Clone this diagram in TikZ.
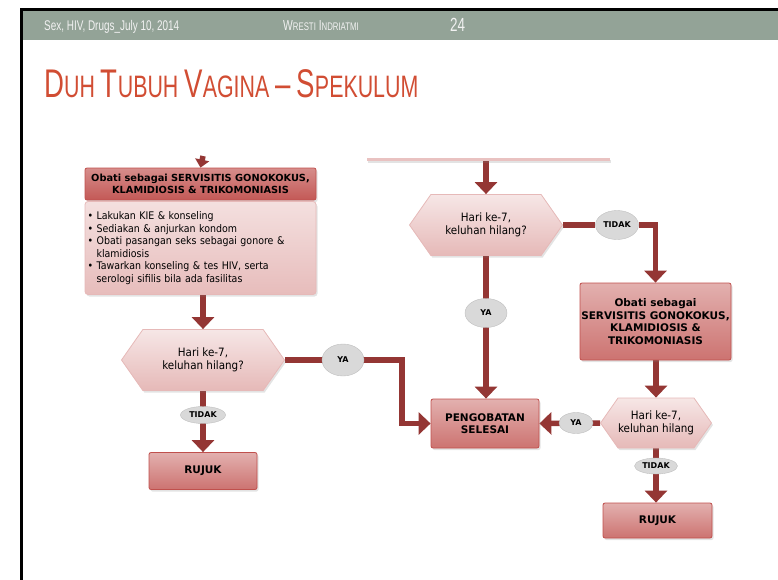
\documentclass[tikz,border=0pt]{standalone}
\usepackage{fontspec}
\setmainfont[FakeStretch=0.9,BoldFeatures={FakeStretch=1.0}]{DejaVu Sans}
\newfontfamily\headfont[FakeStretch=0.71]{Liberation Sans}
\newfontfamily\titlefont[FakeStretch=0.69]{Liberation Sans}
\usetikzlibrary{arrows.meta,shapes.geometric,shapes.symbols,shadows,backgrounds}

\definecolor{arrowred}{HTML}{943634}
\definecolor{boxline}{HTML}{C0504D}
\definecolor{bandgray}{HTML}{93A397}
\definecolor{titlered}{HTML}{D14D33}

\newcommand{\capbig}[1]{{\fontsize{40}{40}\selectfont #1}}

\tikzset{
  softshadow/.style={drop shadow={opacity=0.22,shadow xshift=1.5pt,shadow yshift=-2pt}},
  flowbox/.style={rectangle,rounded corners=2pt,draw=boxline,line width=0.8pt,
    top color=boxline!45!white,bottom color=boxline!80!white,softshadow,
    font=\fontsize{10.5}{12.5}\selectfont\bfseries,align=center,inner sep=0pt},
  headbox/.style={flowbox,top color=boxline!65!white,bottom color=boxline!95!white,
    font=\fontsize{9.8}{12}\selectfont\bfseries},
  listbox/.style={rectangle,rounded corners=3pt,draw=boxline!40!white,line width=0.8pt,
    top color=boxline!18!white,bottom color=boxline!38!white,softshadow,
    font=\fontsize{10.5}{12.6}\selectfont,align=left,inner sep=0pt},
  decision/.style={signal,signal to=west and east,signal pointer angle=110,
    draw=boxline!40!white,line width=0.8pt,top color=boxline!14!white,bottom color=boxline!40!white,
    softshadow,font=\fontsize{11.5}{13}\selectfont,align=center,inner sep=0pt},
  answer/.style={ellipse,draw=black!25,fill=black!15,inner sep=0pt,
    font=\fontsize{8}{9}\selectfont\bfseries},
  flow/.style={draw=arrowred,line width=5.5pt,-{Triangle[width=22pt,length=12pt]}}
}

\begin{document}
\begin{tikzpicture}[x=1pt,y=-1pt]
  \useasboundingbox (0,0) rectangle (778,579);

  % slide frame and header band
  \fill[bandgray] (22,10) rectangle (790,40);
  \draw[line width=3pt] (21,600) -- (21,9) -- (790,9);
  \node[anchor=base west,inner sep=0pt,text=white!95!black,font=\headfont\fontsize{14}{14}\selectfont] (date) at (44,30) {Sex, HIV, Drugs\_July 10, 2014};
  \node[anchor=base west,inner sep=0pt,text=white!95!black,font=\headfont\fontsize{14.5}{14}\selectfont] (author) at (283,30) {W{\fontsize{11}{12}\selectfont RESTI} I{\fontsize{11}{12}\selectfont NDRIATMI}};
  \node[anchor=base west,inner sep=0pt,text=white!95!black,font=\headfont\fontsize{19}{20}\selectfont] (page) at (450,31) {24};
  \node[anchor=base west,text=titlered,font=\titlefont\fontsize{31}{31}\selectfont,inner sep=0pt] (title) at (44,97)
    {\capbig{D}UH \capbig{T}UBUH \capbig{V}AGINA \capbig{–} \capbig{S}PEKULUM};

  % left column
  \coordinate (inL) at (203,156);
  \node[headbox,minimum width=231pt,minimum height=32pt] (head) at (200.5,184)
    {Obati sebagai SERVISITIS GONOKOKUS,\\KLAMIDIOSIS \& TRIKOMONIASIS};
  \node[listbox,minimum width=231pt,minimum height=93pt,text width=226pt] (list) at (200.5,248)
    {\textbullet~Lakukan KIE \& konseling\\
     \textbullet~Sediakan \& anjurkan kondom\\
     \textbullet~Obati pasangan seks sebagai gonore \&\\
     \phantom{\textbullet~}klamidiosis\\
     \textbullet~Tawarkan konseling \& tes HIV, serta\\
     \phantom{\textbullet~}serologi sifilis bila ada fasilitas};
  \node[decision,minimum width=163pt,minimum height=61pt] (hexL) at (203,360) {Hari ke-7,\\keluhan hilang?};
  \node[answer,minimum width=42pt,minimum height=32pt] (yaL) at (343,360) {YA};
  \node[answer,minimum width=45pt,minimum height=17pt] (tidakL) at (203,415) {TIDAK};
  \node[flowbox,minimum width=108pt,minimum height=37pt] (rujukL) at (203,471) {RUJUK};
  \coordinate (bendL) at (402,360);

  % middle column
  \node[rectangle,fill=boxline!35!white,softshadow,minimum width=243pt,minimum height=3pt,inner sep=0pt] (strip) at (488,159) {};
  \node[decision,minimum width=153pt,minimum height=61pt] (hexM) at (486,225) {Hari ke-7,\\keluhan hilang?};
  \node[answer,minimum width=43pt,minimum height=29pt] (tidakM) at (617,225) {TIDAK};
  \node[answer,minimum width=42pt,minimum height=29pt] (yaM) at (486,313) {YA};
  \node[flowbox,minimum width=108pt,minimum height=49pt] (done) at (485,423.5) {PENGOBATAN\\SELESAI};

  % right column
  \node[flowbox,minimum width=151pt,minimum height=77pt] (boxR) at (655.5,321.5)
    {Obati sebagai\\SERVISITIS GONOKOKUS,\\KLAMIDIOSIS \&\\TRIKOMONIASIS};
  \node[decision,minimum width=107pt,minimum height=50pt] (hexR) at (656,423) {Hari ke-7,\\keluhan hilang};
  \node[answer,minimum width=34pt,minimum height=21pt] (yaR) at (576,423) {YA};
  \node[answer,minimum width=43pt,minimum height=16pt] (tidakR) at (656,466) {TIDAK};
  \node[flowbox,minimum width=109pt,minimum height=35pt] (rujukR) at (657.5,520.5) {RUJUK};

  % connectors
  \begin{pgfonlayer}{background}
    \draw[draw=arrowred,line width=5.5pt,-{Triangle[width=14pt,length=8pt]}] (inL) -- (head.north);
    \draw[flow] (list.south -| hexL) -- (hexL.north);
    \draw[flow] (hexL.east) -- (bendL) |- (done.west);
    \draw[flow] (hexL.south) -- (rujukL.north);
    \draw[flow] (strip.south -| hexM) -- (hexM.north);
    \draw[flow] (hexM.east) -- (tidakM) -| (boxR.north);
    \draw[flow] (hexM.south) -- (done.north -| hexM);
    \draw[flow] (boxR.south -| hexR) -- (hexR.north);
    \draw[flow] (hexR.west) -- (done.east);
    \draw[flow] (hexR.south) -- (rujukR.north -| hexR);
  \end{pgfonlayer}
\end{tikzpicture}
\end{document}
